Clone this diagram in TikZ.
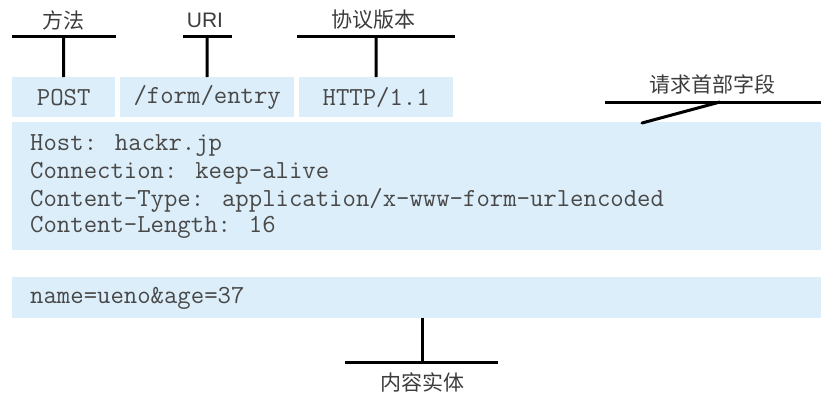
\documentclass[tikz,border=0pt]{standalone}
\usepackage{fontspec}
\setmainfont{Liberation Sans}
\setsansfont{Liberation Sans}
\newfontfamily\cjk{Noto Sans CJK SC}
\definecolor{boxfill}{HTML}{DCEEF9}
\definecolor{txt}{HTML}{3C3C3C}
\definecolor{monotxt}{HTML}{484848}
\tikzset{
  fbox/.style={fill=boxfill, draw=none, inner sep=0pt, anchor=north west},
  mono/.style={font=\ttfamily\fontsize{26}{30}\selectfont, text=monotxt, inner sep=0pt},
  cjklabel/.style={font=\cjk\fontsize{21}{24}\selectfont, text=txt, inner sep=0pt},
  sanslabel/.style={font=\sffamily\fontsize{21}{24}\selectfont, text=txt, inner sep=0pt},
  callout/.style={draw=black, line width=3pt},
}
\begin{document}
\begin{tikzpicture}[x=1pt,y=-1pt]
\useasboundingbox (0,0) rectangle (821,394);
% boxes
\node[fbox, minimum width=103pt, minimum height=40pt] (post) at (12,77) {};
\node[fbox, minimum width=174pt, minimum height=40pt] (uri) at (120,77) {};
\node[fbox, minimum width=154pt, minimum height=40pt] (ver) at (299,77) {};
\node[fbox, minimum width=809pt, minimum height=128pt] (hdr) at (12,122) {};
\node[fbox, minimum width=809pt, minimum height=41pt] (body) at (12,277) {};
% box texts
\node[mono] (tpost) at (post.center) {POST};
\node[mono] (turi) at (uri.center) {/form/entry};
\node[mono] (tver) at (ver.center) {HTTP/1.1};
\node[mono, anchor=west] (h1) at (30,146) {Host: hackr.jp};
\node[mono, anchor=west] (h2) at (30,173) {Connection: keep-alive};
\node[mono, anchor=west] (h3) at (30,200) {Content-Type: application/x-www-form-urlencoded};
\node[mono, anchor=west] (h4) at (30,227) {Content-Length: 16};
\node[mono, anchor=west] (b1) at (30,298) {name=ueno\&age=37};
% labels
\node[cjklabel] (lmethod) at (63,20) {方法};
\node[sanslabel] (luri) at (205,20) {URI};
\node[cjklabel] (lver) at (373,20) {协议版本};
\node[cjklabel] (lhdr) at (712,84) {请求首部字段};
\node[cjklabel] (lbody) at (422,382) {内容实体};
% callout bars
\coordinate (m1) at (12,36); \coordinate (m2) at (116,36); \coordinate (mc) at (63.5,36);
\coordinate (u1) at (183,36); \coordinate (u2) at (232,36); \coordinate (uc) at (207,36);
\coordinate (v1) at (297,36); \coordinate (v2) at (455,36); \coordinate (vc) at (376,36);
\coordinate (r1) at (605,102); \coordinate (r2) at (821,102); \coordinate (rc) at (720,102);
\coordinate (rh) at (642,123);
\coordinate (e1) at (345,362); \coordinate (e2) at (498,362); \coordinate (ec) at (422,362);
\coordinate (et) at (422,318);
\draw[callout] (m1) -- (m2);
\draw[callout] (mc) -- (post.north);
\draw[callout] (u1) -- (u2);
\draw[callout] (uc) -- (uri.north);
\draw[callout] (v1) -- (v2);
\draw[callout] (vc) -- (ver.north);
\draw[callout] (r1) -- (r2);
\draw[callout, line cap=round] (rc) -- (rh);
\draw[callout] (e1) -- (e2);
\draw[callout] (ec) -- (et);
\end{tikzpicture}
\end{document}
